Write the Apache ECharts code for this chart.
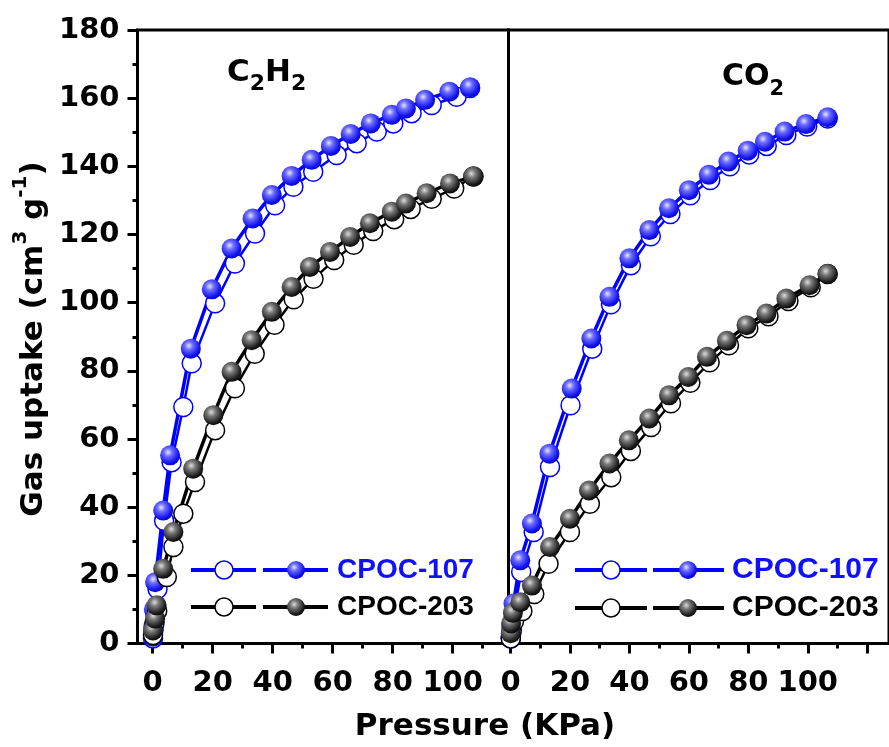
<!DOCTYPE html>
<html><head><meta charset="utf-8">
<script src="https://cdn.jsdelivr.net/npm/echarts@6/dist/echarts.min.js"></script>
<style>html,body{margin:0;padding:0;background:#fff}#c{width:889px;height:747px}</style>
</head><body><div id="c"></div>
<script>
// ---------- data ----------
const materials = ['CPOC-107', 'CPOC-203'];
const gases = ['C2H2', 'CO2'];
const xLabelValues = [0, 20, 40, 60, 80, 100];
const xMajorLeft = [0, 20, 40, 60, 80, 100];
const xMajorRight = [0, 20, 40, 60, 80, 100, 120];
const xMinorValues = [10, 30, 50, 70, 90, 110];
const yLabelValues = [0, 20, 40, 60, 80, 100, 120, 140, 160, 180];

// C2H2 panel
const c2h2_107_ads_x = [0.1, 0.3, 0.8, 1.6, 3.8, 6.3, 10.2, 13.0, 20.8, 27.4, 34.1, 40.8, 46.9, 53.5, 61.3, 68.0, 74.7, 80.2, 86.3, 93.0, 101.3, 105.8];
const c2h2_107_ads_y = [1.5, 4, 9, 16, 36, 53.2, 69.4, 82.2, 99.8, 111.5, 120.3, 128.6, 134.0, 138.4, 143.3, 146.8, 150.2, 152.6, 155.6, 158.0, 160.4, 163.0];
const c2h2_107_des_x = [0.1, 0.2, 0.4, 0.8, 3.5, 5.8, 12.7, 19.7, 26.3, 33.3, 39.7, 46.3, 53.0, 59.4, 66.0, 72.7, 79.7, 84.4, 90.8, 98.9, 105.8];
const c2h2_107_des_y = [2, 5, 10, 18, 39.0, 55.2, 86.5, 103.9, 115.9, 124.7, 131.6, 137.2, 141.9, 146.0, 149.5, 152.6, 155.1, 157.0, 159.5, 161.9, 163.2];
const c2h2_203_ads_x = [0.1, 0.6, 1.5, 4.7, 6.9, 10.2, 14.1, 20.8, 27.4, 34.0, 40.6, 47.0, 53.6, 60.5, 67.0, 73.5, 80.5, 86.0, 93.0, 100.5, 106.9];
const c2h2_203_ads_y = [2.5, 6, 9.5, 19.5, 28.3, 38.1, 47.4, 62.6, 74.9, 85.0, 93.5, 101.0, 107.0, 112.5, 117.0, 121.0, 124.5, 127.5, 130.5, 133.5, 137.0];
const c2h2_203_des_x = [0.1, 0.8, 1.3, 3.5, 6.9, 13.5, 20.2, 26.3, 33.0, 39.7, 46.3, 52.4, 59.1, 65.8, 72.4, 79.7, 84.4, 91.3, 99.1, 106.9];
const c2h2_203_des_y = [3.8, 7.3, 11.2, 21.9, 32.7, 51.3, 67.0, 79.7, 89.0, 97.3, 104.6, 110.5, 114.9, 119.3, 123.3, 126.7, 129.1, 132.1, 135.0, 137.0];

// CO2 panel
const co2_107_ads_x = [0.1, 0.4, 1.2, 3.6, 7.8, 13.3, 20.2, 27.5, 33.8, 40.5, 47.2, 53.8, 60.5, 67.2, 73.8, 80.3, 86.2, 92.8, 99.8, 106.7];
const co2_107_ads_y = [1.5, 4, 9, 21, 32.7, 51.8, 69.9, 86.5, 99.5, 111.0, 119.5, 126.0, 131.5, 136.0, 140.0, 143.5, 146.0, 149.2, 151.7, 154.0];
const co2_107_des_x = [0.1, 0.3, 1.0, 3.3, 7.2, 13.1, 20.6, 27.2, 33.3, 40.0, 46.7, 53.3, 60.0, 66.7, 73.3, 79.8, 85.6, 92.2, 99.4, 106.7];
const co2_107_des_y = [2, 5, 11.7, 24.4, 35.2, 55.7, 74.8, 89.5, 101.7, 113.0, 121.3, 127.7, 133.0, 137.5, 141.4, 144.6, 147.2, 150.2, 152.4, 154.4];
const co2_203_ads_x = [0.1, 0.4, 1.2, 4.0, 8.0, 12.8, 20.0, 26.7, 33.9, 40.5, 47.3, 54.0, 60.5, 67.0, 73.5, 80.0, 86.8, 93.5, 101.0, 106.7];
const co2_203_ads_y = [1.5, 3.5, 6.5, 9.5, 14.5, 23.4, 32.7, 41.0, 48.8, 56.5, 63.5, 70.5, 76.5, 82.5, 87.5, 92.5, 96.0, 100.5, 104.5, 108.4];
const co2_203_des_x = [0.1, 0.2, 0.8, 3.3, 7.2, 13.3, 20.0, 26.4, 33.3, 39.8, 46.7, 53.3, 59.8, 66.1, 72.8, 79.4, 86.1, 92.8, 100.6, 106.7];
const co2_203_des_y = [3, 5.9, 9, 12.1, 17.0, 28.3, 36.6, 44.9, 52.8, 59.6, 66.0, 72.8, 78.2, 84.1, 88.8, 93.4, 96.8, 101.2, 105.1, 108.4];

// ---------- styles ----------
const BLUE = '#0000ff';
const BLACK = '#000000';
const TICK_FONT = 'DejaVu Sans';
const blueSphere = {type:'radial', x:0.4, y:0.35, r:0.7, colorStops:[
  {offset:0, color:'#e4e4ff'}, {offset:0.3, color:'#6c6cff'}, {offset:0.75, color:'#1414f0'}, {offset:1, color:'#0000c0'}]};
const blackSphere = {type:'radial', x:0.4, y:0.35, r:0.7, colorStops:[
  {offset:0, color:'#dddddd'}, {offset:0.3, color:'#7a7a7a'}, {offset:0.75, color:'#222222'}, {offset:1, color:'#000000'}]};

function pts(xs, ys){ return xs.map((x,i)=>[x, ys[i]]); }
function adsSeries(name, xs, ys, gi, color){
  return {name:name, type:'line', xAxisIndex:gi*2, yAxisIndex:gi, data:pts(xs,ys),
    symbol:'circle', symbolSize:19, showSymbol:true, clip:false,
    lineStyle:{color:color, width:2.5},
    itemStyle:{color:'#ffffff', borderColor:color, borderWidth:1.5},
    emphasis:{disabled:true}};
}
function desSeries(name, xs, ys, gi, color, sphere){
  return {name:name, type:'line', xAxisIndex:gi*2, yAxisIndex:gi, data:pts(xs,ys),
    symbol:'circle', symbolSize:20, showSymbol:true, clip:false,
    lineStyle:{color:color, width:3.5},
    itemStyle:{color:sphere, borderWidth:0},
    emphasis:{disabled:true}};
}

const axisLineStyle = {show:true, onZero:false, lineStyle:{color:BLACK, width:3}};
function xMain(gi, min, max, ticks){
  return {type:'value', gridIndex:gi, position:'bottom', min:min, max:max,
    axisLine:axisLineStyle, splitLine:{show:false},
    axisTick:{show:true, inside:false, length:10, customValues:ticks, lineStyle:{color:BLACK, width:3}},
    axisLabel:{show:true, customValues:xLabelValues, margin:25, color:BLACK,
      fontFamily:TICK_FONT, fontWeight:'bold', fontSize:29}};
}
function xMinor(gi, min, max){
  return {type:'value', gridIndex:gi, position:'bottom', min:min, max:max,
    axisLine:{show:false, onZero:false}, splitLine:{show:false},
    axisTick:{show:true, inside:false, length:5, customValues:xMinorValues, lineStyle:{color:BLACK, width:3}},
    axisLabel:{show:false}};
}

const option = {
  animation:false,
  backgroundColor:'#ffffff',
  grid:[
    {left:137.5, top:30, width:371, height:613.5, show:true, borderColor:BLACK, borderWidth:3, containLabel:false},
    {left:508.5, top:30, width:384, height:613.5, show:true, borderColor:BLACK, borderWidth:3, containLabel:false}
  ],
  xAxis:[
    xMain(0, -5.07, 118.6, xMajorLeft),
    xMinor(0, -5.07, 118.6),
    xMain(1, -0.67, 127.33, xMajorRight),
    xMinor(1, -0.67, 127.33)
  ],
  yAxis:[
    {type:'value', gridIndex:0, position:'left', min:yLabelValues[0], max:yLabelValues[yLabelValues.length-1], interval:20,
      axisLine:axisLineStyle, splitLine:{show:false},
      axisTick:{show:true, inside:false, length:10, lineStyle:{color:BLACK, width:3}},
      minorTick:{show:true, splitNumber:2, length:5, lineStyle:{color:BLACK, width:3}},
      axisLabel:{show:true, margin:18, color:BLACK, fontFamily:TICK_FONT, fontWeight:'bold', fontSize:29}},
    {type:'value', gridIndex:1, position:'left', min:yLabelValues[0], max:yLabelValues[yLabelValues.length-1], interval:20,
      axisLine:axisLineStyle, splitLine:{show:false}, axisTick:{show:false}, axisLabel:{show:false}}
  ],
  series:[
    adsSeries(materials[0]+' ads '+gases[0], c2h2_107_ads_x, c2h2_107_ads_y, 0, BLUE),
    desSeries(materials[0]+' des '+gases[0], c2h2_107_des_x, c2h2_107_des_y, 0, BLUE, blueSphere),
    adsSeries(materials[1]+' ads '+gases[0], c2h2_203_ads_x, c2h2_203_ads_y, 0, BLACK),
    desSeries(materials[1]+' des '+gases[0], c2h2_203_des_x, c2h2_203_des_y, 0, BLACK, blackSphere),
    adsSeries(materials[0]+' ads '+gases[1], co2_107_ads_x, co2_107_ads_y, 1, BLUE),
    desSeries(materials[0]+' des '+gases[1], co2_107_des_x, co2_107_des_y, 1, BLUE, blueSphere),
    adsSeries(materials[1]+' ads '+gases[1], co2_203_ads_x, co2_203_ads_y, 1, BLACK),
    desSeries(materials[1]+' des '+gases[1], co2_203_des_x, co2_203_des_y, 1, BLACK, blackSphere)
  ],
  graphic: []
};

// ---------- text & legend decorations ----------
const g = option.graphic;
const mainRich = {fontFamily:'DejaVu Sans', fontWeight:'bold', fontSize:31, lineHeight:46, fill:BLACK, color:BLACK};
g.push({type:'text', x:33.5, y:339, rotation:Math.PI/2, z:100,
  style:{text:'{m|Gas uptake (cm}{s|3}{m| g}{s|-1}{m|)}', align:'center', verticalAlign:'middle',
    rich:{m:mainRich, s:{fontFamily:'DejaVu Sans', fontWeight:'bold', fontSize:20, lineHeight:20, verticalAlign:'top', fill:BLACK, color:BLACK}}}});
g.push({type:'text', x:485, y:727, z:100,
  style:{text:'Pressure (KPa)', align:'center', verticalAlign:'middle', fill:BLACK,
    font:'bold 31px "DejaVu Sans"'}});
function formula(x, y, parts, fa, fb){
  const txt = parts.map(p => p[1] ? '{b|'+p[0]+'}' : '{a|'+p[0]+'}').join('');
  g.push({type:'text', x:x, y:y, z:100,
    style:{text:txt, align:'left', verticalAlign:'middle',
      rich:{a:{fontFamily:'DejaVu Sans', fontWeight:'bold', fontSize:fa, lineHeight:46, fill:BLACK, color:BLACK},
            b:{fontFamily:'DejaVu Sans', fontWeight:'bold', fontSize:fb, lineHeight:fb, verticalAlign:'bottom', fill:BLACK, color:BLACK}}}});
}
formula(227, 72.5, [['C',0],['2',1],['H',0],['2',1]], 31, 22);
formula(722, 77.5, [['C',0],['O',0],['2',1]], 30, 21);

function legendRow(x1, x2, cx1, x3, x4, cx2, tx, y, color, sphere, label, fs){
  g.push({type:'line', z:100, shape:{x1:x1, y1:y, x2:x2, y2:y}, style:{stroke:color, lineWidth:4}});
  g.push({type:'line', z:100, shape:{x1:x3, y1:y, x2:x4, y2:y}, style:{stroke:color, lineWidth:4}});
  g.push({type:'circle', z:101, shape:{cx:cx1, cy:y, r:9}, style:{fill:'#ffffff', stroke:color, lineWidth:1.5}});
  g.push({type:'circle', z:101, shape:{cx:cx2, cy:y, r:9}, style:{fill:sphere}});
  g.push({type:'text', z:101, x:tx, y:y, style:{text:label, align:'left', verticalAlign:'middle',
    fill:color === BLUE ? '#1010ff' : BLACK, font:'bold '+fs+'px "Liberation Sans", Arial, sans-serif'}});
}
legendRow(191, 256, 224, 263, 328, 296, 337, 570, BLUE, blueSphere, materials[0], 28);
legendRow(191, 256, 224, 263, 328, 296, 337, 607, BLACK, blackSphere, materials[1], 28);
legendRow(575, 647, 611, 653, 724, 688, 732, 570, BLUE, blueSphere, materials[0], 30);
legendRow(575, 647, 611, 653, 724, 688, 732, 608, BLACK, blackSphere, materials[1], 30);

const chart = echarts.init(document.getElementById('c'), null, {renderer:'canvas', width:889, height:747});
chart.setOption(option);
</script>
</body></html>
